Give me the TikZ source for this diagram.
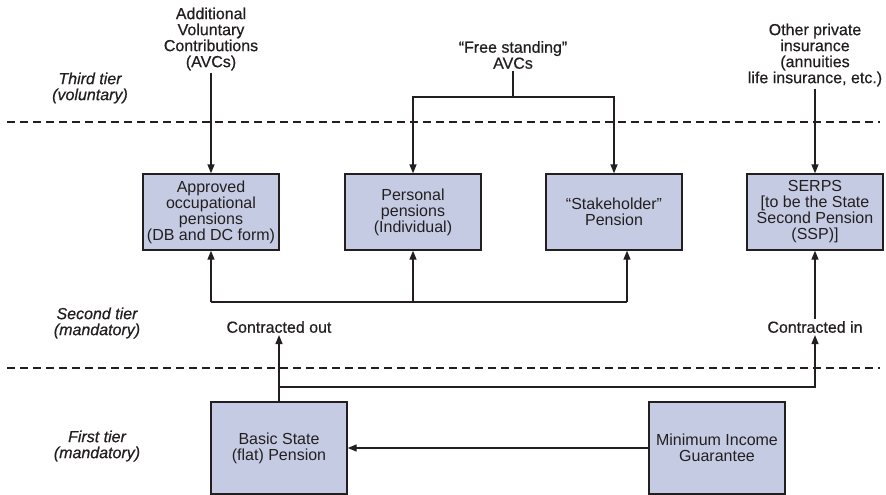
\documentclass[tikz,border=0pt]{standalone}
\usepackage{fontspec}
\setmainfont{Liberation Sans}
\newfontfamily\medfont[FakeBold=0.6]{Liberation Sans}
\usetikzlibrary{arrows.meta}

\definecolor{boxfill}{RGB}{198,203,228}
\definecolor{ink}{RGB}{35,31,32}

\tikzset{
  pbox/.style={draw=ink, line width=1.4pt, fill=boxfill, minimum width=136pt, align=center, text=ink, inner sep=2pt},
  lbl/.style={align=center, text=ink, inner sep=2pt, font=\fontsize{16}{16}\selectfont\medfont},
  tier/.style={align=center, text=ink, font=\fontsize{16}{16}\selectfont\medfont\itshape},
  conn/.style={draw=ink, line width=1.4pt},
  arr/.style={conn, -{Triangle[length=9pt,width=7pt]}},
  tierline/.style={draw=ink, line width=1.2pt, dash pattern=on 8pt off 5pt}
}

\begin{document}
\begin{tikzpicture}[x=1pt, y=-1pt, font=\fontsize{16}{16}\selectfont]
\useasboundingbox (0,0) rectangle (886,495);

% tier borders
\draw[tierline] (7,122) -- (880,122);
\draw[tierline] (7,368) -- (880,368);

% tier names
\node[tier] (third) at (90,88) {Third tier\\(voluntary)};
\node[tier] (second) at (97,323) {Second tier\\(mandatory)};
\node[tier] (first) at (97,446) {First tier\\(mandatory)};

% pension boxes
\node[pbox, minimum height=76pt] (occ) at (211,212) {Approved\\occupational\\pensions\\(DB and DC form)};
\node[pbox, minimum height=76pt] (pers) at (413,212) {Personal\\pensions\\(Individual)};
\node[pbox, minimum height=76pt] (stake) at (614,212) {“Stakeholder”\\Pension};
\node[pbox, minimum height=76pt] (serps) at (815,212) {SERPS\\{[}to be the State\\Second Pension\\(SSP)]};
\node[pbox, minimum height=92pt] (basic) at (279,448) {Basic State\\(flat) Pension};
\node[pbox, minimum height=92pt] (mig) at (717,448) {Minimum Income\\Guarantee};

% free labels
\node[lbl] (avc) at (211,39) {Additional\\Voluntary\\Contributions\\(AVCs)};
\node[lbl] (fsavc) at (513,55) {“Free standing”\\AVCs};
\node[lbl] (other) at (815,55) {Other private\\insurance\\(annuities\\life insurance, etc.)};
\node[lbl] (cout) at (279,327) {Contracted out};
\node[lbl] (cin) at (815,327) {Contracted in};

\coordinate (fsj) at (513,97);
\coordinate (busl) at (211,302);
\coordinate (busr) at (627,302);
\coordinate (split) at (279,387);

% connectors
\draw[arr] (avc) -- (occ);
\draw[conn] (fsavc) -- (fsj);
\draw[arr] (fsj) -| (pers);
\draw[arr] (fsj) -| (stake);
\draw[arr] (other) -- (serps);
\draw[conn] (busl) -- (busr);
\draw[arr] (busl) -- (occ);
\draw[arr] (busl -| pers) -- (pers);
\draw[arr] (busr) -- (busr |- stake.south);
\draw[arr] (basic) -- (cout);
\draw[arr] (split) -| (cin);
\draw[arr] (cin) -- (serps);
\draw[arr] (mig) -- (basic);
\end{tikzpicture}
\end{document}
